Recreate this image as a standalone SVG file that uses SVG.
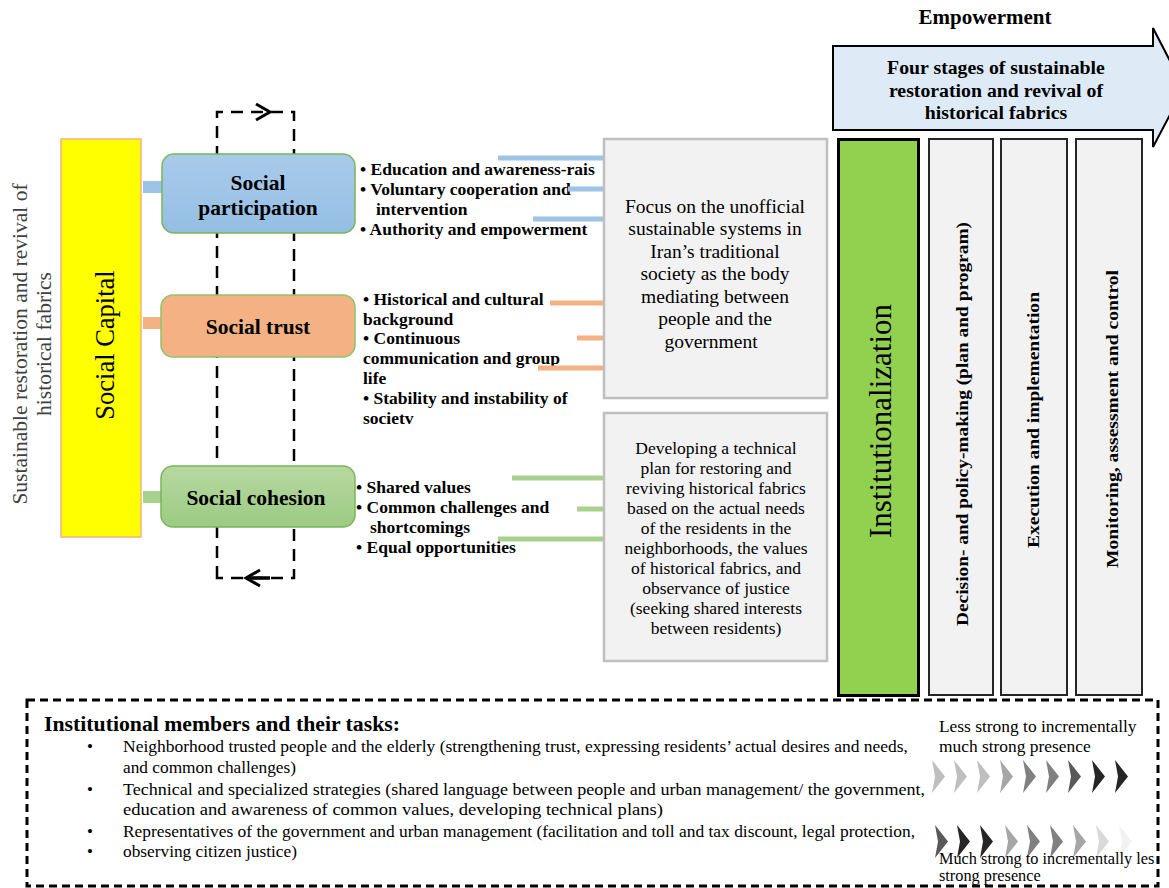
<svg xmlns="http://www.w3.org/2000/svg" width="1169" height="888" viewBox="0 0 1169 888">
<style>
.serif{font-family:"Liberation Serif","Times New Roman",serif;fill:#000}
.b{font-weight:bold}
.bul{font-family:"Liberation Serif","Times New Roman",serif;font-weight:bold;font-size:17.5px}
.gbox{fill:#F2F2F2;stroke:#BFBFBF;stroke-width:2.5}
.col{fill:#F2F2F2;stroke:#262626;stroke-width:2}
.dash{fill:none;stroke:#000;stroke-width:2.5;stroke-dasharray:12 8}
.mid{text-anchor:middle}
.task{font-family:"Liberation Serif","Times New Roman",serif;font-size:17px}
</style>
<defs>
<linearGradient id="gBlue" x1="0" y1="0" x2="0" y2="1"><stop offset="0" stop-color="#A9CBEA"/><stop offset="1" stop-color="#95BEE4"/></linearGradient>
<linearGradient id="gGreen" x1="0" y1="0" x2="0" y2="1"><stop offset="0" stop-color="#B7D8A2"/><stop offset="1" stop-color="#9CCB82"/></linearGradient>
<path id="chev" d="M0,0 L13,16.5 L0,33 L3,16.5 Z"/>
</defs>
<rect width="1169" height="888" fill="#fff"/>

<g id="side-title">
<text class="serif" font-size="21.5" style="fill:#404040" text-anchor="middle" transform="translate(27,344) rotate(-90)">Sustainable restoration and revival of</text>
<text class="serif" font-size="21.5" style="fill:#404040" text-anchor="middle" transform="translate(51,344) rotate(-90)">historical fabrics</text>
</g>

<g id="connectors">
<path class="dash" d="M217,578 L217,112 L294,112 L294,578 Z"/>
<polyline points="256,104 270,112 256,120" fill="none" stroke="#000" stroke-width="3"/>
<polyline points="260,570 246,578 260,586" fill="none" stroke="#000" stroke-width="3"/>
<line x1="248" y1="578" x2="270" y2="578" stroke="#000" stroke-width="3.5"/>
<rect x="143" y="181" width="19" height="12" fill="#9DC3E6"/>
<rect x="143" y="317" width="19" height="12" fill="#F4B183"/>
<rect x="143" y="491" width="19" height="12" fill="#A9D18E"/>
</g>

<g id="social-capital">
<rect x="61" y="139" width="80" height="398" fill="#FFFF00" stroke="#F4B183" stroke-width="1.5"/>
<text class="serif" font-size="26.5" text-anchor="middle" transform="translate(114,345) rotate(-90)">Social Capital</text>
</g>

<g id="social-participation">
<rect x="162" y="154" width="193" height="79" rx="12" fill="url(#gBlue)" stroke="#78B657" stroke-width="1.5"/>
<text class="serif b mid" font-size="21.5" x="258" y="190">Social</text>
<text class="serif b mid" font-size="21.5" x="258" y="215">participation</text>
</g>

<g id="social-trust">
<rect x="161" y="295" width="194" height="62" rx="12" fill="#F4B183" stroke="#8CC56A" stroke-width="1.5"/>
<text class="serif b mid" font-size="21.5" x="258" y="334">Social trust</text>
</g>

<g id="social-cohesion">
<rect x="161" y="466" width="194" height="61" rx="12" fill="url(#gGreen)" stroke="#78B657" stroke-width="1.5"/>
<text class="serif b mid" font-size="21.5" x="256" y="505">Social cohesion</text>
</g>

<g id="participation-items">
<text class="bul" x="360" y="175">• Education and awareness-rais</text>
<text class="bul" x="360" y="195">• Voluntary cooperation and</text>
<text class="bul" x="376" y="215">intervention</text>
<text class="bul" x="360" y="235">• Authority and empowerment</text>
</g>
<g id="trust-items">
<text class="bul" x="363" y="305">• Historical and cultural</text>
<text class="bul" x="363" y="325">background</text>
<text class="bul" x="363" y="344">• Continuous</text>
<text class="bul" x="363" y="364">communication and group</text>
<text class="bul" x="363" y="384">life</text>
<text class="bul" x="363" y="404">• Stability and instability of</text>
<text class="bul" x="363" y="424">societv</text>
</g>
<g id="cohesion-items">
<text class="bul" x="356" y="493">• Shared values</text>
<text class="bul" x="356" y="513">• Common challenges and</text>
<text class="bul" x="370" y="533">shortcomings</text>
<text class="bul" x="356" y="553">• Equal opportunities</text>
</g>

<g id="item-lines">
<line x1="498" y1="158" x2="604" y2="158" stroke="#9DC3E6" stroke-width="5"/>
<line x1="568" y1="189" x2="604" y2="189" stroke="#9DC3E6" stroke-width="5"/>
<line x1="533" y1="219" x2="604" y2="219" stroke="#9DC3E6" stroke-width="5"/>
<line x1="550" y1="303" x2="604" y2="303" stroke="#F4B183" stroke-width="5"/>
<line x1="577" y1="338" x2="604" y2="338" stroke="#F4B183" stroke-width="5"/>
<line x1="538" y1="368" x2="604" y2="368" stroke="#F4B183" stroke-width="5"/>
<line x1="512" y1="478" x2="604" y2="478" stroke="#A9D18E" stroke-width="5"/>
<line x1="577" y1="509" x2="604" y2="509" stroke="#A9D18E" stroke-width="5"/>
<line x1="498" y1="539" x2="604" y2="539" stroke="#A9D18E" stroke-width="5"/>
</g>

<g id="focus-box">
<rect class="gbox" x="604" y="139" width="223" height="259"/>
<g class="serif mid" font-size="19.5">
<text x="715" y="213">Focus on the unofficial</text>
<text x="715" y="235">sustainable systems in</text>
<text x="715" y="258">Iran’s traditional</text>
<text x="715" y="280">society as the body</text>
<text x="715" y="303">mediating between</text>
<text x="715" y="325">people and the</text>
<text x="711" y="348">government</text>
</g>
</g>

<g id="plan-box">
<rect class="gbox" x="604" y="413" width="223" height="248"/>
<g class="serif mid" font-size="17.5">
<text x="716" y="454">Developing a technical</text>
<text x="716" y="474">plan for restoring and</text>
<text x="716" y="494">reviving historical fabrics</text>
<text x="716" y="514">based on the actual needs</text>
<text x="716" y="534">of the residents in the</text>
<text x="716" y="554">neighborhoods, the values</text>
<text x="716" y="574">of historical fabrics, and</text>
<text x="716" y="594">observance of justice</text>
<text x="716" y="614">(seeking shared interests</text>
<text x="716" y="634">between residents)</text>
</g>
</g>

<g id="empowerment">
<text class="serif b mid" font-size="21" x="985" y="24">Empowerment</text>
<polygon points="833,46 1153,46 1153,28 1184,88 1153,147 1153,130 833,130" fill="#DEEBF7" stroke="#000" stroke-width="2"/>
<g class="serif b mid" font-size="19.8">
<text x="996" y="74">Four stages of sustainable</text>
<text x="996" y="97">restoration and revival of</text>
<text x="996" y="119">historical fabrics</text>
</g>
</g>

<g id="institutionalization">
<rect x="838.5" y="139.5" width="80" height="556" fill="#92D050" stroke="#000" stroke-width="3"/>
<text class="serif mid" font-size="31" transform="translate(891,421) rotate(-90)">Institutionalization</text>
</g>
<g id="decision">
<rect class="col" x="929" y="139" width="64" height="556"/>
<text class="serif b mid" font-size="17" textLength="404" lengthAdjust="spacingAndGlyphs" transform="translate(968,424) rotate(-90)">Decision- and policy-making (plan and program)</text>
</g>
<g id="execution">
<rect class="col" x="1001" y="139" width="66" height="556"/>
<text class="serif b mid" font-size="17" textLength="256" lengthAdjust="spacingAndGlyphs" transform="translate(1039,420) rotate(-90)">Execution and implementation</text>
</g>
<g id="monitoring">
<rect class="col" x="1076" y="139" width="66" height="556"/>
<text class="serif b mid" font-size="17" textLength="298" lengthAdjust="spacingAndGlyphs" transform="translate(1118,419) rotate(-90)">Monitoring, assessment and control</text>
</g>

<g id="members-box">
<rect x="27" y="700" width="1131" height="186" fill="none" stroke="#000" stroke-width="3" stroke-dasharray="8 5"/>
<text class="serif b" font-size="20" x="44" y="731" textLength="356" lengthAdjust="spacingAndGlyphs">Institutional members and their tasks:</text>
<g class="task">
<text x="87" y="752">•</text>
<text x="123" y="752" textLength="785" lengthAdjust="spacingAndGlyphs">Neighborhood trusted people and the elderly (strengthening trust, expressing residents’ actual desires and needs,</text>
<text x="123" y="773" textLength="173" lengthAdjust="spacingAndGlyphs">and common challenges)</text>
<text x="87" y="795">•</text>
<text x="123" y="795" textLength="802" lengthAdjust="spacingAndGlyphs">Technical and specialized strategies (shared language between people and urban management/ the government,</text>
<text x="123" y="815" textLength="540" lengthAdjust="spacingAndGlyphs">education and awareness of common values, developing technical plans)</text>
<text x="87" y="837">•</text>
<text x="123" y="837" textLength="792" lengthAdjust="spacingAndGlyphs">Representatives of the government and urban management (facilitation and toll and tax discount, legal protection,</text>
<text x="87" y="857">•</text>
<text x="123" y="857" textLength="174" lengthAdjust="spacingAndGlyphs">observing citizen justice)</text>
</g>
</g>

<g id="legend">
<text class="serif" font-size="17.4" x="939" y="732">Less strong to incrementally</text>
<text class="serif" font-size="17.4" x="939" y="752">much strong presence</text>
<use href="#chev" x="932" y="760" fill="#BFBFBF"/>
<use href="#chev" x="954" y="760" fill="#BFBFBF"/>
<use href="#chev" x="977" y="760" fill="#BFBFBF"/>
<use href="#chev" x="1000" y="760" fill="#A6A6A6"/>
<use href="#chev" x="1023" y="760" fill="#808080"/>
<use href="#chev" x="1046" y="760" fill="#808080"/>
<use href="#chev" x="1068" y="760" fill="#595959"/>
<use href="#chev" x="1092" y="760" fill="#262626"/>
<use href="#chev" x="1115" y="760" fill="#262626"/>
<use href="#chev" x="935" y="825" fill="#595959"/>
<use href="#chev" x="957" y="825" fill="#262626"/>
<use href="#chev" x="980" y="825" fill="#262626"/>
<use href="#chev" x="1005" y="825" fill="#A6A6A6"/>
<use href="#chev" x="1027" y="825" fill="#808080"/>
<use href="#chev" x="1050" y="825" fill="#808080"/>
<use href="#chev" x="1073" y="825" fill="#A6A6A6"/>
<use href="#chev" x="1096" y="825" fill="#D9D9D9"/>
<use href="#chev" x="1119" y="825" fill="#F2F2F2"/>
<text class="serif" font-size="16.3" x="939" y="864">Much strong to incrementally les</text>
<text class="serif" font-size="16.3" x="939" y="881">strong presence</text>
</g>
</svg>
